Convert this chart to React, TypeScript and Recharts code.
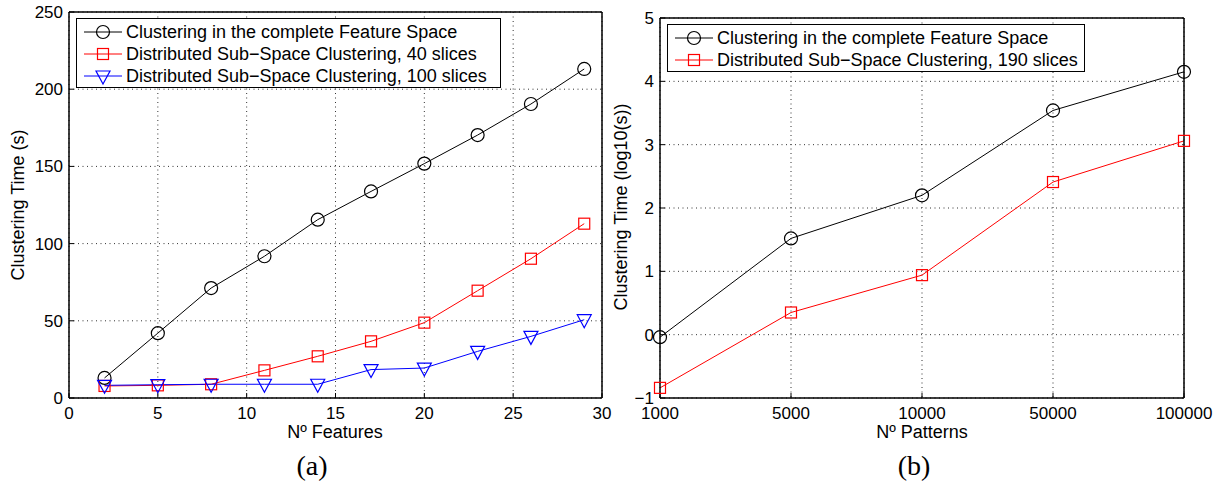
import React from 'react';
import { LineChart, Line, XAxis, YAxis, CartesianGrid, Legend } from 'recharts';

// (a) clustering time vs number of features
const features = [2, 5, 8, 11, 14, 17, 20, 23, 26, 29];
const fullSpaceTime = [13, 42, 71.2, 91.8, 115.5, 133.8, 151.8, 170.3, 190.4, 213.1];
const slices40Time = [7.8, 8.2, 8.9, 17.9, 27, 36.7, 48.8, 69.5, 90.2, 112.9];
const slices100Time = [8.2, 8.6, 8.9, 8.9, 8.9, 18.4, 19.4, 30.2, 39.9, 50.7];
const featureTicks = [0, 5, 10, 15, 20, 25, 30];
const timeTicks = [0, 50, 100, 150, 200, 250];

// (b) log10 clustering time vs number of patterns
const patterns = ['1000', '5000', '10000', '50000', '100000'];
const fullSpaceLog = [-0.04, 1.52, 2.2, 3.54, 4.15];
const slices190Log = [-0.84, 0.35, 0.94, 2.41, 3.06];
const logTicks = [-1, 0, 1, 2, 3, 4, 5];

const FONT = '"Liberation Sans", Arial, Helvetica, sans-serif';

type MarkerKind = 'circle' | 'square' | 'triangle';

type Series = { key: string; name: string; color: string; marker: MarkerKind };

const featureSeries: Series[] = [
  { key: 'full', name: 'Clustering in the complete Feature Space', color: '#000000', marker: 'circle' },
  { key: 's40', name: 'Distributed Sub\u2212Space Clustering, 40 slices', color: '#ff0000', marker: 'square' },
  { key: 's100', name: 'Distributed Sub\u2212Space Clustering, 100 slices', color: '#0000ff', marker: 'triangle' },
];

const patternSeries: Series[] = [
  { key: 'full', name: 'Clustering in the complete Feature Space', color: '#000000', marker: 'circle' },
  { key: 's190', name: 'Distributed Sub\u2212Space Clustering, 190 slices', color: '#ff0000', marker: 'square' },
];

const featureData = features.map((f, i) => ({
  x: f,
  full: fullSpaceTime[i],
  s40: slices40Time[i],
  s100: slices100Time[i],
}));

const patternData = patterns.map((p, i) => ({
  x: p,
  full: fullSpaceLog[i],
  s190: slices190Log[i],
}));

const Marker = ({ kind, cx, cy, color }: { kind: MarkerKind; cx: number; cy: number; color: string }) => {
  if (kind === 'circle') {
    return <circle cx={cx} cy={cy} r={6.5} fill="none" stroke={color} strokeWidth={1.2} />;
  }
  if (kind === 'square') {
    return <rect x={cx - 5.5} y={cy - 5.5} width={11} height={11} fill="none" stroke={color} strokeWidth={1.2} />;
  }
  return (
    <path
      d={`M${cx - 7},${cy - 5}L${cx + 7},${cy - 5}L${cx},${cy + 8}Z`}
      fill="none"
      stroke={color}
      strokeWidth={1.2}
    />
  );
};

const LegendBox = ({ items, width }: { items: Series[]; width: number }) => (
  <div
    style={{
      width,
      boxSizing: 'border-box',
      border: '1.5px solid #000',
      background: '#fff',
      padding: '2px 0 0 7px',
      fontFamily: FONT,
    }}
  >
    {items.map((s) => (
      <div key={s.key} style={{ display: 'flex', alignItems: 'center', height: 22 }}>
        <svg width={38} height={22} style={{ flex: 'none' }}>
          <line x1={0} y1={11} x2={38} y2={11} stroke={s.color} strokeWidth={1} />
          <Marker kind={s.marker} cx={19} cy={11} color={s.color} />
        </svg>
        <span style={{ marginLeft: 4, fontSize: 18, lineHeight: '22px', color: '#000', whiteSpace: 'nowrap' }}>
          {s.name}
        </span>
      </div>
    ))}
  </div>
);

const minus = (v: number | string) => String(v).replace('-', '\u2212');

type PanelProps = {
  data: any[];
  series: Series[];
  xType: 'number' | 'category';
  xDomain?: [number, number];
  xTicks?: number[];
  yDomain: [number, number];
  yTicks: number[];
  yWidth: number;
  margin: { top: number; right: number; bottom: number; left: number };
  legendPos: { left: number; top: number; width: number };
};

const Panel = ({ data, series, xType, xDomain, xTicks, yDomain, yTicks, yWidth, margin, legendPos }: PanelProps) => {
  const axisLine = { stroke: '#000', strokeWidth: 1.5 };
  const tickLine = { stroke: '#000', strokeWidth: 1 };
  const tickStyle = { fill: '#000', fontSize: 17, fontFamily: FONT };
  return (
    <LineChart width={613} height={483} data={data} margin={margin}>
      <CartesianGrid stroke="#333" strokeDasharray="1 3.5" strokeWidth={1} />
      <XAxis
        dataKey="x"
        type={xType}
        domain={xDomain}
        ticks={xTicks}
        interval={0}
        height={40}
        axisLine={axisLine}
        tickLine={tickLine}
        tickSize={-5}
        tickMargin={14}
        tick={tickStyle}
      />
      <XAxis
        xAxisId="top"
        orientation="top"
        dataKey="x"
        type={xType}
        domain={xDomain}
        ticks={xTicks}
        interval={0}
        height={1}
        axisLine={axisLine}
        tickLine={tickLine}
        tickSize={-5}
        tick={false}
      />
      <YAxis
        type="number"
        domain={yDomain}
        ticks={yTicks}
        interval={0}
        width={yWidth}
        axisLine={axisLine}
        tickLine={tickLine}
        tickSize={-5}
        tickMargin={11}
        tick={tickStyle}
        tickFormatter={minus}
      />
      <YAxis
        yAxisId="right"
        orientation="right"
        type="number"
        domain={yDomain}
        ticks={yTicks}
        interval={0}
        width={1}
        axisLine={axisLine}
        tickLine={tickLine}
        tickSize={-5}
        tick={false}
      />
      {series.map((s) => (
        <Line
          key={s.key}
          type="linear"
          dataKey={s.key}
          name={s.name}
          stroke={s.color}
          strokeWidth={1}
          isAnimationActive={false}
          activeDot={false}
          dot={(p: any) => <Marker key={`${s.key}-${p.index}`} kind={s.marker} cx={p.cx} cy={p.cy} color={s.color} />}
        />
      ))}
      <Legend
        layout="vertical"
        align="center"
        verticalAlign="middle"
        wrapperStyle={{ left: legendPos.left, top: legendPos.top, width: legendPos.width }}
        content={() => <LegendBox items={series} width={legendPos.width} />}
      />
    </LineChart>
  );
};

const centered = (left: number, top: number, extra: React.CSSProperties = {}): React.CSSProperties => ({
  position: 'absolute',
  left,
  top,
  transform: 'translate(-50%, -50%)',
  whiteSpace: 'nowrap',
  lineHeight: 1,
  color: '#000',
  ...extra,
});

export default function App() {
  return (
    <div
      style={{
        position: 'absolute',
        left: 0,
        top: 0,
        width: 1226,
        height: 483,
        background: '#fff',
        fontFamily: FONT,
        overflow: 'hidden',
      }}
    >
      <div style={{ position: 'absolute', left: 0, top: 0 }}>
        <Panel
          data={featureData}
          series={featureSeries}
          xType="number"
          xDomain={[0, 30]}
          xTicks={featureTicks}
          yDomain={[0, 250]}
          yTicks={timeTicks}
          yWidth={50}
          margin={{ top: 11, right: 10, bottom: 45, left: 19 }}
          legendPos={{ left: 76, top: 18, width: 425 }}
        />
      </div>
      <div style={{ position: 'absolute', left: 613, top: 0 }}>
        <Panel
          data={patternData}
          series={patternSeries}
          xType="category"
          yDomain={[-1, 5]}
          yTicks={logTicks}
          yWidth={40}
          margin={{ top: 17, right: 41, bottom: 45, left: 7 }}
          legendPos={{ left: 54, top: 24, width: 418 }}
        />
      </div>

      <div style={centered(18, 205, { fontSize: 18, transform: 'translate(-50%, -50%) rotate(-90deg)' })}>
        Clustering Time (s)
      </div>
      <div style={centered(621, 207, { fontSize: 18, transform: 'translate(-50%, -50%) rotate(-90deg)' })}>
        Clustering Time (log10(s))
      </div>
      <div style={centered(335, 432, { fontSize: 18 })}>Nº Features</div>
      <div style={centered(922, 432, { fontSize: 18 })}>Nº Patterns</div>
      <div style={centered(312, 466, { fontSize: 28, fontFamily: '"Liberation Serif", "DejaVu Serif", serif' })}>(a)</div>
      <div style={centered(914, 466, { fontSize: 28, fontFamily: '"Liberation Serif", "DejaVu Serif", serif' })}>(b)</div>
    </div>
  );
}
